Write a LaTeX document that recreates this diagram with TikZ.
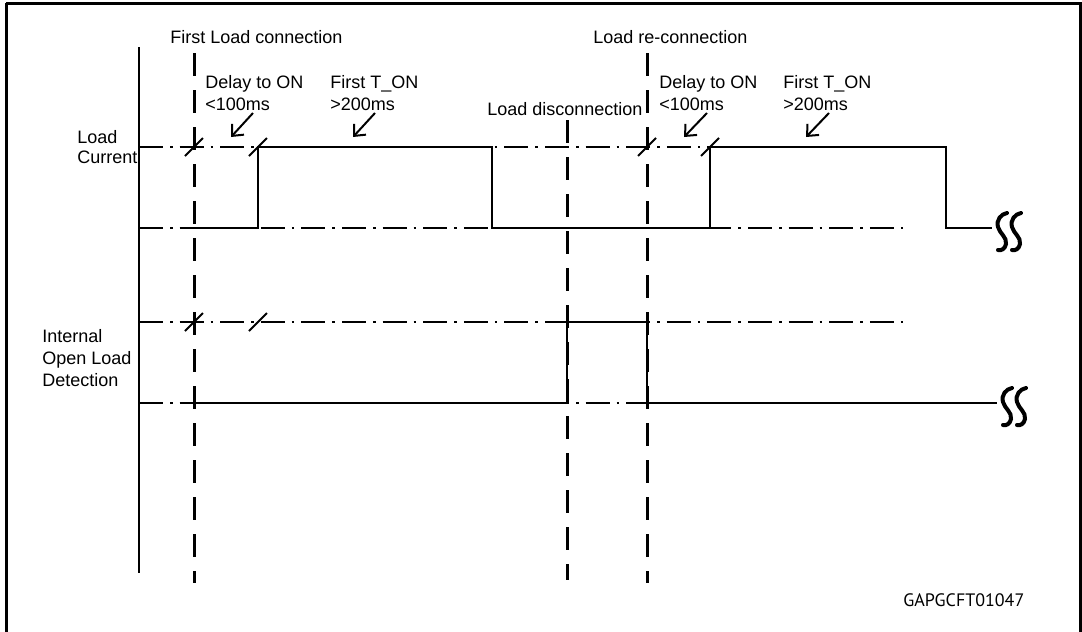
\documentclass[tikz,border=0pt]{standalone}
\usepackage{fontspec}
\setmainfont{Liberation Sans}
\newfontfamily\codefont{PT Sans}
\usetikzlibrary{arrows.meta}

\tikzset{
  frame/.style={line width=1.5pt},
  axis/.style={line width=1pt},
  wave/.style={line width=1.15pt},
  refline/.style={line width=0.7pt, dash pattern=on 12pt off 3.5pt on 1.3pt off 3.5pt},
  eventline/.style={line width=1.5pt, dash pattern=on 11.5pt off 7pt},
  tickmark/.style={line width=1pt},
  note/.style={anchor=base west, inner sep=0pt, font=\fontsize{9}{10.5}\selectfont},
  pointer/.style={line width=1pt, -{Straight Barb[length=4.5pt,width=8pt]}},
  brkstroke/.style={line width=2pt, line cap=round},
  brk/.pic={
    \draw[brkstroke] (15,-15) .. controls (9,-14) and (4,-8) .. (6,-1)
      .. controls (8,6) and (15,9) .. (14,16) .. controls (13,21) and (9,23) .. (6,22);
    \draw[brkstroke] (29,-15) .. controls (23,-14) and (18,-8) .. (20,-1)
      .. controls (22,6) and (29,9) .. (28,16) .. controls (27,21) and (23,23) .. (20,22);
  }
}

\begin{document}
\begin{tikzpicture}[x=0.5pt, y=-0.5pt]
  \useasboundingbox (0,0) rectangle (1082,632);

  % outer frame
  \draw[frame] (6,3) -- (1080.5,3) -- (1080.5,645);
  \draw[frame] (6,3) -- (6,645);

  % time axis
  \coordinate (axtop) at (139,47);
  \coordinate (axbot) at (139,573);
  \draw[axis] (axtop) -- (axbot);

  % reference levels
  \coordinate (lchL) at (139,147);  \coordinate (lchR) at (905,147);
  \coordinate (lclL) at (139,228);  \coordinate (lclR) at (905,228);
  \coordinate (odhL) at (139,322);  \coordinate (odhR) at (905,322);
  \coordinate (odlL) at (139,403);  \coordinate (odlR) at (905,403);
  \draw[refline] (lchL) -- (lchR);
  \draw[refline] (lclL) -- (lclR);
  \draw[refline] (odhL) -- (odhR);
  \draw[refline] (odlL) -- (odlR);

  % event markers
  \coordinate (e1t) at (194,53);  \coordinate (e1b) at (194,583);
  \coordinate (e2t) at (567,120); \coordinate (e2b) at (567,580);
  \coordinate (e3t) at (647,53);  \coordinate (e3b) at (647,583);
  \draw[eventline] (e1t) -- (e1b);
  \draw[eventline] (e2t) -- (e2b);
  \draw[eventline] (e3t) -- (e3b);

  % load current waveform
  \draw[wave] (194,228) -- (258,228) -- (258,147) -- (492,147) -- (492,228)
    -- (710,228) -- (710,147) -- (946,147) -- (946,228) -- (992,228) coordinate (lcbrk);
  \pic at (lcbrk) {brk};

  % open load detection waveform
  \draw[wave] (194,403) -- (567,403) -- (567,322) -- (647,322) -- (647,403) -- (997,403) coordinate (odbrk);
  \pic at (odbrk) {brk};

  % slash ticks
  \foreach \px/\py in {194/147, 258/147, 647/147, 710/147, 194/322, 258/322}
    \draw[tickmark] (\px-9,\py+9) -- (\px+9,\py-9);

  % labels
  \node[note] (flc) at (170,43) {First Load connection};
  \node[note] (lrc) at (593,43) {Load re-connection};
  \node[note] (d1a) at (205,88) {Delay to ON};
  \node[note] (d1b) at (205,110) {<100ms};
  \node[note] (t1a) at (330,88) {First T\_ON};
  \node[note] (t1b) at (330,110) {>200ms};
  \node[note] (d2a) at (659,88) {Delay to ON};
  \node[note] (d2b) at (659,110) {<100ms};
  \node[note] (t2a) at (783,88) {First T\_ON};
  \node[note] (t2b) at (783,110) {>200ms};
  \node[note] (ldc) at (487,115) {Load disconnection};
  \node[note] (lc1) at (77,143) {Load};
  \node[note] (lc2) at (77,163) {Current};
  \node[note] (io1) at (42,342) {Internal};
  \node[note] (io2) at (42,364) {Open Load};
  \node[note] (io3) at (42,386) {Detection};
  \node[anchor=base west, inner sep=0pt, font=\codefont\fontsize{9}{10}\selectfont] (code) at (903,606) {GAPGCFT01047};

  % pointers
  \coordinate (p1s) at (253,113); \coordinate (p1e) at (231,137);
  \coordinate (p2s) at (375,113); \coordinate (p2e) at (353,137);
  \coordinate (p3s) at (707,113); \coordinate (p3e) at (684,137);
  \coordinate (p4s) at (829,113); \coordinate (p4e) at (806,137);
  \draw[pointer] (p1s) -- (p1e);
  \draw[pointer] (p2s) -- (p2e);
  \draw[pointer] (p3s) -- (p3e);
  \draw[pointer] (p4s) -- (p4e);
\end{tikzpicture}
\end{document}
